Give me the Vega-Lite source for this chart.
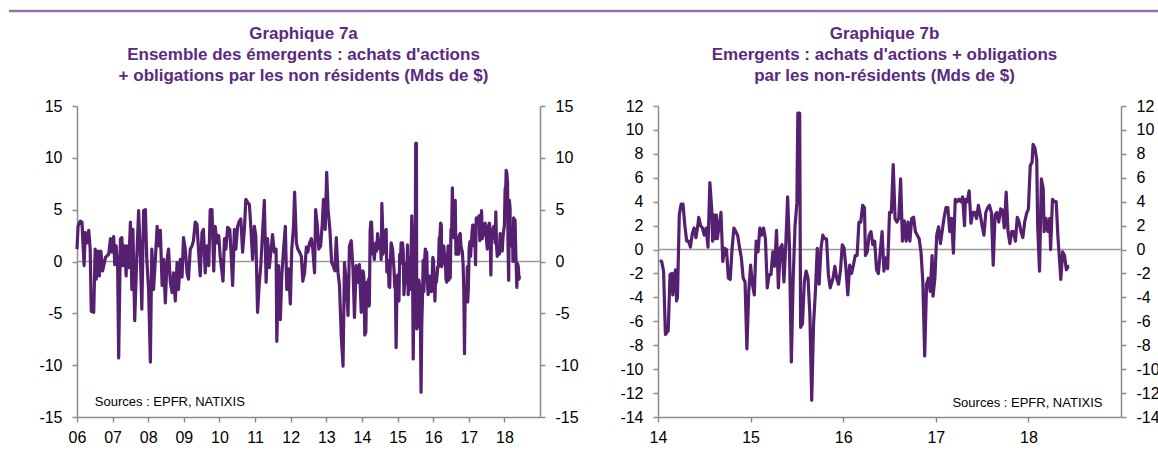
{
"$schema": "https://vega.github.io/schema/vega-lite/v6.json",
"padding": {"left": 7, "top": 9, "right": 0, "bottom": 0},
"background": "white",
"config": {
  "view": {"stroke": null},
  "font": "Liberation Sans",
  "axis": {"domainColor": "#8c8c8c", "tickColor": "#8c8c8c", "domainWidth": 1.5, "tickWidth": 1.5, "tickSize": 5, "labelFontSize": 16, "labelColor": "#000000", "grid": false, "labelFont": "Liberation Sans", "title": null},
  "axisY": {"labelPadding": 10},
  "axisX": {"labelPadding": 7, "labelFlush": false, "labelOverlap": false},
  "title": {"font": "Liberation Sans", "fontSize": 17, "fontWeight": "bold", "color": "#5b2a80", "lineHeight": 21, "anchor": "middle"}
},
"datasets": {
  "flows": [
{"t":2006.00,"v":1.2},{"t":2006.03,"v":3.4},{"t":2006.09,"v":3.9},{"t":2006.14,"v":3.8},{"t":2006.17,"v":1.5},{"t":2006.20,"v":-0.4},{"t":2006.23,"v":2.8},{"t":2006.28,"v":1.8},{"t":2006.33,"v":3.0},{"t":2006.37,"v":1.2},{"t":2006.40,"v":-4.8},{"t":2006.47,"v":-4.9},{"t":2006.51,"v":1.2},{"t":2006.54,"v":-1.7},{"t":2006.59,"v":1.0},{"t":2006.63,"v":-1.4},{"t":2006.67,"v":1.0},{"t":2006.72,"v":-0.9},{"t":2006.80,"v":0.4},{"t":2006.89,"v":0.7},{"t":2006.94,"v":2.2},{"t":2006.98,"v":0.9},
{"t":2007.03,"v":2.4},{"t":2007.06,"v":-0.3},{"t":2007.10,"v":1.5},{"t":2007.14,"v":-0.3},{"t":2007.17,"v":-9.3},{"t":2007.22,"v":2.2},{"t":2007.26,"v":2.3},{"t":2007.29,"v":-0.4},{"t":2007.34,"v":1.5},{"t":2007.38,"v":-1.4},{"t":2007.40,"v":1.5},{"t":2007.45,"v":-0.6},{"t":2007.50,"v":3.8},{"t":2007.54,"v":-2.7},{"t":2007.57,"v":3.1},{"t":2007.62,"v":-5.7},{"t":2007.68,"v":0.5},{"t":2007.73,"v":4.9},{"t":2007.78,"v":0.5},{"t":2007.82,"v":-4.6},{"t":2007.87,"v":4.9},{"t":2007.92,"v":5.0},{"t":2007.96,"v":0.2},
{"t":2008.01,"v":-2.7},{"t":2008.06,"v":-9.7},{"t":2008.10,"v":1.2},{"t":2008.15,"v":-2.7},{"t":2008.20,"v":0.2},{"t":2008.25,"v":3.4},{"t":2008.29,"v":1.5},{"t":2008.34,"v":3.0},{"t":2008.39,"v":-2.3},{"t":2008.43,"v":0.2},{"t":2008.48,"v":-4.0},{"t":2008.53,"v":0.2},{"t":2008.57,"v":1.2},{"t":2008.62,"v":-2.0},{"t":2008.67,"v":-3.0},{"t":2008.71,"v":-1.1},{"t":2008.76,"v":-3.8},{"t":2008.81,"v":-0.1},{"t":2008.85,"v":-2.7},{"t":2008.90,"v":0.2},{"t":2008.95,"v":-1.5},{"t":2008.99,"v":2.3},
{"t":2009.04,"v":1.2},{"t":2009.09,"v":-1.1},{"t":2009.13,"v":-1.7},{"t":2009.18,"v":1.2},{"t":2009.23,"v":1.5},{"t":2009.27,"v":2.0},{"t":2009.32,"v":3.8},{"t":2009.37,"v":3.6},{"t":2009.41,"v":1.2},{"t":2009.46,"v":-1.4},{"t":2009.51,"v":2.8},{"t":2009.55,"v":3.1},{"t":2009.60,"v":-1.1},{"t":2009.65,"v":1.5},{"t":2009.70,"v":-0.4},{"t":2009.74,"v":5.0},{"t":2009.79,"v":5.0},{"t":2009.84,"v":-0.9},{"t":2009.88,"v":3.4},{"t":2009.93,"v":1.8},{"t":2009.98,"v":2.5},
{"t":2010.02,"v":0.5},{"t":2010.10,"v":-1.9},{"t":2010.14,"v":2.2},{"t":2010.18,"v":1.2},{"t":2010.23,"v":3.3},{"t":2010.29,"v":3.1},{"t":2010.32,"v":1.2},{"t":2010.37,"v":-2.3},{"t":2010.42,"v":3.1},{"t":2010.46,"v":1.2},{"t":2010.51,"v":3.4},{"t":2010.56,"v":3.9},{"t":2010.60,"v":4.1},{"t":2010.65,"v":0.9},{"t":2010.70,"v":3.1},{"t":2010.74,"v":6.0},{"t":2010.79,"v":5.7},{"t":2010.84,"v":5.5},{"t":2010.88,"v":3.4},{"t":2010.93,"v":0.2},{"t":2010.98,"v":3.4},
{"t":2011.02,"v":2.5},{"t":2011.07,"v":-4.9},{"t":2011.12,"v":-2.0},{"t":2011.16,"v":-0.4},{"t":2011.21,"v":2.8},{"t":2011.26,"v":5.9},{"t":2011.31,"v":-2.0},{"t":2011.35,"v":2.2},{"t":2011.40,"v":-0.6},{"t":2011.45,"v":1.2},{"t":2011.49,"v":2.6},{"t":2011.54,"v":0.9},{"t":2011.59,"v":1.2},{"t":2011.61,"v":-7.7},{"t":2011.66,"v":-0.4},{"t":2011.71,"v":-5.6},{"t":2011.75,"v":-1.4},{"t":2011.80,"v":1.2},{"t":2011.85,"v":3.4},{"t":2011.89,"v":-2.7},{"t":2011.94,"v":-0.7},{"t":2011.99,"v":-4.1},
{"t":2012.03,"v":1.2},{"t":2012.08,"v":3.4},{"t":2012.11,"v":6.7},{"t":2012.16,"v":1.8},{"t":2012.20,"v":1.2},{"t":2012.25,"v":0.9},{"t":2012.30,"v":0.5},{"t":2012.34,"v":-1.9},{"t":2012.39,"v":-1.1},{"t":2012.44,"v":1.4},{"t":2012.48,"v":0.9},{"t":2012.53,"v":1.8},{"t":2012.58,"v":2.2},{"t":2012.62,"v":1.2},{"t":2012.67,"v":-1.1},{"t":2012.70,"v":5.0},{"t":2012.75,"v":3.4},{"t":2012.79,"v":1.2},{"t":2012.84,"v":1.5},{"t":2012.89,"v":3.8},{"t":2012.92,"v":6.0},{"t":2012.97,"v":3.1},
{"t":2013.01,"v":8.6},{"t":2013.05,"v":5.0},{"t":2013.10,"v":3.1},{"t":2013.15,"v":-0.1},{"t":2013.19,"v":-0.4},{"t":2013.24,"v":-0.9},{"t":2013.28,"v":2.3},{"t":2013.33,"v":-1.1},{"t":2013.37,"v":-2.3},{"t":2013.42,"v":-7.2},{"t":2013.47,"v":-10.1},{"t":2013.51,"v":-0.1},{"t":2013.56,"v":-2.0},{"t":2013.61,"v":-5.2},{"t":2013.65,"v":1.5},{"t":2013.70,"v":2.0},{"t":2013.75,"v":-0.7},{"t":2013.79,"v":-5.4},{"t":2013.84,"v":-0.4},{"t":2013.89,"v":-2.0},{"t":2013.93,"v":-0.3},{"t":2013.98,"v":-4.9},
{"t":2014.02,"v":-0.9},{"t":2014.04,"v":-1.0},{"t":2014.06,"v":-1.8},{"t":2014.08,"v":-7.1},{"t":2014.11,"v":-6.8},{"t":2014.13,"v":-2.1},{"t":2014.15,"v":-2.0},{"t":2014.16,"v":-3.8},{"t":2014.17,"v":-2.4},{"t":2014.19,"v":-1.7},{"t":2014.20,"v":-4.3},{"t":2014.21,"v":-4.0},{"t":2014.23,"v":2.9},{"t":2014.25,"v":3.8},{"t":2014.27,"v":3.8},{"t":2014.29,"v":2.0},{"t":2014.31,"v":0.7},{"t":2014.33,"v":0.7},{"t":2014.35,"v":0.2},{"t":2014.37,"v":1.3},{"t":2014.39,"v":1.8},{"t":2014.41,"v":1.0},{"t":2014.43,"v":2.0},{"t":2014.44,"v":2.7},{"t":2014.46,"v":2.0},{"t":2014.48,"v":1.8},{"t":2014.50,"v":1.2},{"t":2014.52,"v":1.8},{"t":2014.54,"v":0.2},{"t":2014.56,"v":5.6},{"t":2014.58,"v":3.4},{"t":2014.59,"v":0.7},{"t":2014.60,"v":2.9},{"t":2014.62,"v":0.9},{"t":2014.63,"v":2.9},{"t":2014.64,"v":0.9},{"t":2014.68,"v":3.1},{"t":2014.70,"v":-1.0},{"t":2014.72,"v":0.1},{"t":2014.74,"v":0.0},{"t":2014.76,"v":-2.4},{"t":2014.78,"v":-2.5},{"t":2014.80,"v":0.1},{"t":2014.82,"v":1.8},{"t":2014.84,"v":1.5},{"t":2014.86,"v":1.2},{"t":2014.88,"v":0.2},{"t":2014.90,"v":-0.7},{"t":2014.92,"v":-2.4},{"t":2014.94,"v":-2.7},{"t":2014.96,"v":-8.3},{"t":2014.98,"v":-3.5},
{"t":2015.00,"v":-1.3},{"t":2015.02,"v":-2.9},{"t":2015.04,"v":-3.8},{"t":2015.06,"v":0.7},{"t":2015.08,"v":-0.2},{"t":2015.10,"v":1.8},{"t":2015.12,"v":1.2},{"t":2015.14,"v":1.8},{"t":2015.16,"v":0.9},{"t":2015.18,"v":-3.2},{"t":2015.20,"v":-2.1},{"t":2015.22,"v":-2.1},{"t":2015.24,"v":-0.2},{"t":2015.26,"v":-1.4},{"t":2015.28,"v":1.6},{"t":2015.30,"v":-3.2},{"t":2015.32,"v":0.1},{"t":2015.34,"v":0.4},{"t":2015.36,"v":-2.7},{"t":2015.38,"v":0.4},{"t":2015.40,"v":4.4},{"t":2015.42,"v":0.1},{"t":2015.44,"v":-9.4},{"t":2015.46,"v":-2.4},{"t":2015.48,"v":2.0},{"t":2015.50,"v":3.9},{"t":2015.51,"v":11.4},{"t":2015.53,"v":11.4},{"t":2015.54,"v":-6.5},{"t":2015.56,"v":-6.2},{"t":2015.58,"v":-2.7},{"t":2015.60,"v":-1.8},{"t":2015.62,"v":-2.4},{"t":2015.64,"v":-5.4},{"t":2015.66,"v":-12.6},{"t":2015.68,"v":-6.2},{"t":2015.70,"v":-3.5},{"t":2015.72,"v":0.1},{"t":2015.74,"v":-2.9},{"t":2015.76,"v":0.1},{"t":2015.78,"v":1.2},{"t":2015.80,"v":0.9},{"t":2015.82,"v":0.9},{"t":2015.84,"v":-2.1},{"t":2015.86,"v":-3.2},{"t":2015.87,"v":-2.9},{"t":2015.89,"v":-2.4},{"t":2015.91,"v":-1.4},{"t":2015.93,"v":-2.4},{"t":2015.95,"v":-2.9},{"t":2015.97,"v":-1.8},{"t":2015.99,"v":0.4},
{"t":2016.01,"v":0.1},{"t":2016.03,"v":-1.6},{"t":2016.05,"v":-3.8},{"t":2016.07,"v":-1.3},{"t":2016.09,"v":-2.0},{"t":2016.11,"v":-1.3},{"t":2016.13,"v":-0.5},{"t":2016.15,"v":-0.5},{"t":2016.17,"v":2.3},{"t":2016.19,"v":2.3},{"t":2016.21,"v":3.7},{"t":2016.23,"v":3.5},{"t":2016.24,"v":-0.5},{"t":2016.26,"v":-0.2},{"t":2016.28,"v":1.2},{"t":2016.30,"v":1.5},{"t":2016.32,"v":0.4},{"t":2016.34,"v":0.7},{"t":2016.36,"v":-1.7},{"t":2016.38,"v":-2.0},{"t":2016.40,"v":-0.2},{"t":2016.42,"v":1.5},{"t":2016.44,"v":-1.8},{"t":2016.46,"v":-0.7},{"t":2016.48,"v":-1.6},{"t":2016.50,"v":3.1},{"t":2016.52,"v":3.1},{"t":2016.54,"v":7.1},{"t":2016.56,"v":2.6},{"t":2016.58,"v":2.3},{"t":2016.60,"v":2.6},{"t":2016.62,"v":5.9},{"t":2016.64,"v":0.7},{"t":2016.66,"v":2.4},{"t":2016.68,"v":0.7},{"t":2016.70,"v":2.3},{"t":2016.72,"v":0.7},{"t":2016.74,"v":2.6},{"t":2016.76,"v":2.7},{"t":2016.78,"v":1.5},{"t":2016.80,"v":1.2},{"t":2016.82,"v":0.9},{"t":2016.84,"v":-0.2},{"t":2016.86,"v":-2.7},{"t":2016.88,"v":-8.9},{"t":2016.90,"v":-2.9},{"t":2016.92,"v":-2.4},{"t":2016.94,"v":-3.5},{"t":2016.96,"v":-0.5},{"t":2016.97,"v":-3.9},{"t":2016.99,"v":-2.4},
{"t":2017.01,"v":1.2},{"t":2017.03,"v":1.9},{"t":2017.05,"v":0.5},{"t":2017.07,"v":1.6},{"t":2017.09,"v":2.7},{"t":2017.11,"v":3.5},{"t":2017.13,"v":3.5},{"t":2017.15,"v":1.5},{"t":2017.17,"v":2.6},{"t":2017.19,"v":-0.3},{"t":2017.21,"v":4.2},{"t":2017.23,"v":4.0},{"t":2017.25,"v":4.2},{"t":2017.27,"v":4.0},{"t":2017.29,"v":4.4},{"t":2017.31,"v":2.0},{"t":2017.32,"v":4.2},{"t":2017.34,"v":4.0},{"t":2017.36,"v":4.9},{"t":2017.38,"v":2.2},{"t":2017.40,"v":3.1},{"t":2017.42,"v":3.1},{"t":2017.44,"v":2.6},{"t":2017.46,"v":3.7},{"t":2017.48,"v":2.9},{"t":2017.50,"v":2.0},{"t":2017.52,"v":1.2},{"t":2017.54,"v":3.1},{"t":2017.56,"v":3.5},{"t":2017.58,"v":3.7},{"t":2017.60,"v":3.1},{"t":2017.62,"v":-1.3},{"t":2017.64,"v":2.9},{"t":2017.66,"v":3.1},{"t":2017.68,"v":2.3},{"t":2017.70,"v":3.4},{"t":2017.72,"v":3.3},{"t":2017.74,"v":1.8},{"t":2017.76,"v":4.8},{"t":2017.78,"v":1.5},{"t":2017.80,"v":0.5},{"t":2017.82,"v":1.5},{"t":2017.84,"v":1.5},{"t":2017.86,"v":0.7},{"t":2017.88,"v":2.7},{"t":2017.90,"v":2.3},{"t":2017.92,"v":1.5},{"t":2017.94,"v":1.0},{"t":2017.96,"v":2.3},{"t":2017.98,"v":3.0},
{"t":2018.00,"v":3.4},{"t":2018.02,"v":7.0},{"t":2018.04,"v":7.3},{"t":2018.05,"v":8.8},{"t":2018.07,"v":8.5},{"t":2018.09,"v":7.5},{"t":2018.10,"v":2.0},{"t":2018.12,"v":-1.8},{"t":2018.14,"v":5.9},{"t":2018.16,"v":5.1},{"t":2018.17,"v":1.5},{"t":2018.19,"v":2.6},{"t":2018.21,"v":1.5},{"t":2018.23,"v":2.6},{"t":2018.24,"v":0.0},{"t":2018.26,"v":4.2},{"t":2018.28,"v":4.0},{"t":2018.30,"v":4.0},{"t":2018.32,"v":0.9},{"t":2018.34,"v":-1.3},{"t":2018.35,"v":-2.5},{"t":2018.37,"v":-0.2},{"t":2018.39,"v":-0.5},{"t":2018.41,"v":-1.7},{"t":2018.43,"v":-1.4},{"t":2018.44,"v":-1.4}
  ]
},
"spacing": 12,
"vconcat": [
  {
    "width": 1083, "height": 1,
    "data": {"values": [{"v": 0}]},
    "mark": {"type": "rule", "color": "#9473a8", "strokeWidth": 2.5},
    "encoding": {
      "x": {"datum": -0.0628, "type": "quantitative", "scale": {"domain": [0, 1], "nice": false, "zero": false}, "axis": null},
      "x2": {"datum": 1},
      "y": {"field": "v", "type": "quantitative", "scale": {"domain": [0, 1]}, "axis": null}
    }
  },
  {
    "spacing": 38,
    "hconcat": [
      {
        "width": 463, "height": 311,
        "title": {"text": ["Graphique 7a", "Ensemble des émergents : achats d'actions", "+ obligations par les non résidents (Mds de $)"], "offset": 13, "dx": -5},
        "resolve": {"axis": {"y": "independent", "x": "independent"}},
        "layer": [
          {
            "data": {"values": [{}]},
            "mark": {"type": "rule", "color": "#9a9a9a", "strokeWidth": 1.5},
            "encoding": {"y": {"datum": 0, "type": "quantitative", "scale": {"domain": [-15, 15], "nice": false}, "axis": {"orient": "right", "values": [-15, -10, -5, 0, 5, 10, 15], "labelExpr": "toString(datum.value)", "minExtent": 40, "maxExtent": 40}}}
          },
          {
            "data": {"name": "flows"},
            "mark": {"type": "line", "color": "#55206f", "strokeWidth": 3.2, "strokeJoin": "round"},
            "encoding": {
              "x": {"field": "t", "type": "quantitative", "scale": {"domain": [2006, 2019], "nice": false, "zero": false}, "axis": {"values": [2006, 2007, 2008, 2009, 2010, 2011, 2012, 2013, 2014, 2015, 2016, 2017, 2018], "labelExpr": "substring(toString(datum.value), 2)", "labelOverlap": false, "labelSeparation": 0}},
              "y": {"field": "v", "type": "quantitative", "axis": {"orient": "left", "values": [-15, -10, -5, 0, 5, 10, 15], "labelExpr": "toString(datum.value)", "minExtent": 68, "maxExtent": 68}}
            }
          },
          {
            "data": {"values": [{}]},
            "mark": {"type": "text", "text": "Sources : EPFR, NATIXIS", "fontSize": 13, "align": "left", "baseline": "alphabetic", "color": "#000000"},
            "encoding": {"x": {"datum": 2006.5, "type": "quantitative", "axis": null}, "y": {"datum": -13.9, "type": "quantitative", "axis": null}}
          }
        ]
      },
      {
        "width": 463, "height": 311,
        "title": {"text": ["Graphique 7b", "Emergents : achats d'actions + obligations", "par les non-résidents (Mds de $)"], "offset": 13, "dx": -5},
        "resolve": {"axis": {"y": "independent", "x": "independent"}},
        "layer": [
          {
            "data": {"values": [{}]},
            "mark": {"type": "rule", "color": "#9a9a9a", "strokeWidth": 1.5},
            "encoding": {"y": {"datum": 0, "type": "quantitative", "scale": {"domain": [-14, 12], "nice": false}, "axis": {"orient": "right", "values": [-14, -12, -10, -8, -6, -4, -2, 0, 2, 4, 6, 8, 10, 12], "labelExpr": "toString(datum.value)", "minExtent": 40, "maxExtent": 40}}}
          },
          {
            "data": {"name": "flows"},
            "transform": [{"filter": "datum.t >= 2014"}],
            "mark": {"type": "line", "color": "#55206f", "strokeWidth": 3.2, "strokeJoin": "round"},
            "encoding": {
              "x": {"field": "t", "type": "quantitative", "scale": {"domain": [2014, 2019], "nice": false, "zero": false}, "axis": {"values": [2014, 2015, 2016, 2017, 2018], "labelExpr": "substring(toString(datum.value), 2)", "labelOverlap": false}},
              "y": {"field": "v", "type": "quantitative", "axis": {"orient": "left", "values": [-14, -12, -10, -8, -6, -4, -2, 0, 2, 4, 6, 8, 10, 12], "labelExpr": "toString(datum.value)", "minExtent": 40, "maxExtent": 40}}
            }
          },
          {
            "data": {"values": [{}]},
            "mark": {"type": "text", "text": "Sources : EPFR, NATIXIS", "fontSize": 13, "align": "right", "baseline": "alphabetic", "color": "#000000"},
            "encoding": {"x": {"datum": 2018.8, "type": "quantitative", "axis": null}, "y": {"datum": -13.2, "type": "quantitative", "axis": null}}
          }
        ]
      }
    ]
  }
]
}
